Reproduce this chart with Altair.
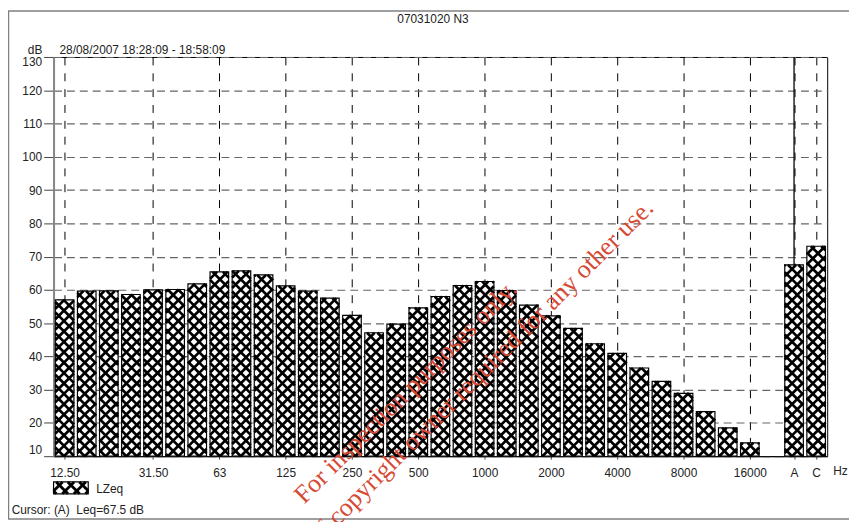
import altair as alt
import pandas as pd
import numpy as np

# ---------------- data ----------------
bands = ["12.5", "16", "20", "25", "31.5", "40", "50", "63", "80", "100",
         "125", "160", "200", "250", "315", "400", "500", "630", "800", "1000",
         "1250", "1600", "2000", "2500", "3150", "4000", "5000", "6300", "8000",
         "10000", "12500", "16000", "20000", "A", "C"]
lzeq = [57.0, 59.6, 59.7, 58.6, 60.0, 60.1, 61.8, 65.4, 65.7, 64.5,
        61.2, 59.6, 57.5, 52.3, 47.1, 49.7, 54.6, 58.0, 61.3, 62.5,
        59.8, 55.4, 52.2, 48.4, 43.8, 40.9, 36.5, 32.5, 28.9,
        23.4, 18.5, 14.0, None, 67.5, 73.1]
tick_bands = ["12.5", "31.5", "63", "125", "250", "500", "1000", "2000",
              "4000", "8000", "16000", "A", "C"]
tick_text = ["12.50", "31.50", "63", "125", "250", "500", "1000", "2000",
             "4000", "8000", "16000", "A", "C"]
y_ticks = list(range(10, 131, 10))

title_text = "07031020 N3"
period_text = "28/08/2007 18:28:09 - 18:58:09"
cursor_text = "Cursor: (A)\u00a0 Leq=67.5 dB"
series_name = "LZeq"
wm1 = "For inspection purposes only."
wm2 = "Consent of copyright owner required for any other use."

# ---------------- geometry ----------------
W, H = 781, 403
N = len(bands)
PX_X = W / N
PX_Y = H / 120.0
HALF = 0.42

df = pd.DataFrame({"slot": np.arange(N), "band": bands, "value": lzeq}).dropna()
df["x0"] = df["slot"] - HALF
df["x1"] = df["slot"] + HALF
df["base"] = 10.0
df["top"] = 130.0


def hatch(x0, x1, y0, y1, P):
    U0, U1 = (x0 + 0.5) * PX_X, (x1 + 0.5) * PX_X
    V0, V1 = (y0 - 10) * PX_Y, (y1 - 10) * PX_Y
    segs = []
    for k in range(int(np.floor((V0 - U1) / P)) - 1, int(np.ceil((V1 - U0) / P)) + 2):
        c = k * P
        us, ue = max(U0, V0 - c), min(U1, V1 - c)
        if ue - us > 0.3:
            segs.append((us, us + c, ue, ue + c))
    for k in range(int(np.floor((V0 + U0) / P)) - 1, int(np.ceil((V1 + U1) / P)) + 2):
        c = k * P
        us, ue = max(U0, c - V1), min(U1, c - V0)
        if ue - us > 0.3:
            segs.append((us, c - us, ue, c - ue))
    return [{"xa": a / PX_X - 0.5, "ya": b / PX_Y + 10,
             "xb": cc / PX_X - 0.5, "yb": d / PX_Y + 10} for a, b, cc, d in segs]


rows = []
for _, r in df.iterrows():
    rows += hatch(r["x0"], r["x1"], 10.0, r["value"], 10.5)
hatch_df = pd.DataFrame(rows)

# legend swatch (below the plot, same scales)
sw = {"x0": -0.5, "x1": -0.5 + 35 / PX_X, "y0": 10 - 38 / PX_Y, "y1": 10 - 26 / PX_Y}
sw_df = pd.DataFrame([sw])
sw_hatch = pd.DataFrame(hatch(sw["x0"], sw["x1"], sw["y0"], sw["y1"], 11.7))

slot_of = {b: i for i, b in enumerate(bands)}
tick_slots = [slot_of[b] for b in tick_bands]
lab_arr = ["" for _ in range(N)]
for s, t in zip(tick_slots, tick_text):
    lab_arr[s] = t
label_expr = "[" + ",".join("'" + t + "'" for t in lab_arr) + "][datum.value]"

x_scale = alt.Scale(domain=[-0.5, N - 0.5], nice=False, zero=False)
y_scale = alt.Scale(domain=[10, 130], nice=False, zero=False)

x_axis = alt.Axis(values=tick_slots, labelExpr=label_expr, grid=True,
                  gridDash=[8, 8], gridColor="black", gridWidth=1,
                  domainColor="black", domainWidth=1, tickSize=3, tickColor="#444",
                  labelPadding=9, labelAngle=0, labelFontSize=12,
                  labelColor="#222", title=None)
y_axis = alt.Axis(values=y_ticks, grid=True, gridDash=[8, 5], gridColor="#666",
                  gridWidth=1.2, domainColor="#888", domainWidth=2,
                  tickColor="#444", tickSize=10, labelPadding=2, labelFlush=True,
                  labelFontSize=12, labelColor="#222", title=None)

X = lambda f: alt.X(f, type="quantitative", scale=x_scale, axis=x_axis)
Y = lambda f: alt.Y(f, type="quantitative", scale=y_scale, axis=y_axis)

fill = alt.Chart(df).mark_rect(fill="white").encode(
    x=X("x0"), x2="x1", y=Y("base"), y2="value")
hatch_l = alt.Chart(hatch_df).mark_rule(color="black", strokeWidth=2.7).encode(
    x=X("xa"), x2="xb", y=Y("ya"), y2="yb")
outline = alt.Chart(df).mark_rect(fillOpacity=0, stroke="black", strokeWidth=1.2).encode(
    x=X("x0"), x2="x1", y=Y("base"), y2="value")
cursor = alt.Chart(df[df["band"] == "A"]).mark_rule(color="black", strokeWidth=1.3).encode(
    x=X("slot"), y=Y("value"), y2="top")

sw_fill = alt.Chart(sw_df).mark_rect(fill="white").encode(
    x=X("x0"), x2="x1", y=Y("y0"), y2="y1")
sw_h = alt.Chart(sw_hatch).mark_rule(color="black", strokeWidth=2.8).encode(
    x=X("xa"), x2="xb", y=Y("ya"), y2="yb")
sw_out = alt.Chart(sw_df).mark_rect(fillOpacity=0, stroke="black", strokeWidth=1.2).encode(
    x=X("x0"), x2="x1", y=Y("y0"), y2="y1")

one = pd.DataFrame({"k": [0]})
frame = alt.Chart(one).mark_rect(fillOpacity=0, stroke="#808080", strokeWidth=1.5).encode(
    x=alt.value(-45.5), x2=alt.value(900), y=alt.value(-46.5), y2=alt.value(466.5))


def txt(s, x, y, align="left", size=12, **kw):
    return alt.Chart(one).mark_text(text=s, align=align, baseline="middle",
                                    font="Liberation Sans", fontSize=size,
                                    color=kw.pop("color", "#222"), **kw).encode(
        x=alt.value(x), y=alt.value(y))


texts = [
    txt(title_text, 383, -38.5, align="center"),
    txt("dB", -26, -7.5),
    txt(period_text, 6, -7.5),
    txt("Hz", 787, 418),
    txt(series_name, 43, 436.5),
    txt(cursor_text, -42.3, 457.5),
]
wm_a = alt.Chart(one).mark_text(text=wm1, align="left", baseline="alphabetic",
                                font="Liberation Serif", fontSize=26, angle=315,
                                color="#d64a35").encode(x=alt.value(253), y=alt.value(452))
wm_b = alt.Chart(one).mark_text(text=wm2, align="right", baseline="alphabetic",
                                font="Liberation Serif", fontSize=26, angle=315,
                                color="#d64a35").encode(x=alt.value(607), y=alt.value(154))

chart = alt.layer(frame, fill, hatch_l, outline, cursor, sw_fill, sw_h, sw_out,
                  *texts, wm_a, wm_b).properties(
    width=W, height=H,
    autosize=alt.AutoSizeParams(type="none"),
    padding={"left": 46, "top": 47, "right": 22, "bottom": 64},
).configure_view(stroke="black", strokeWidth=1).configure_axis(
    labelFont="Liberation Sans")

chart.save("out.html", embed_options={"renderer": "svg", "actions": False})
